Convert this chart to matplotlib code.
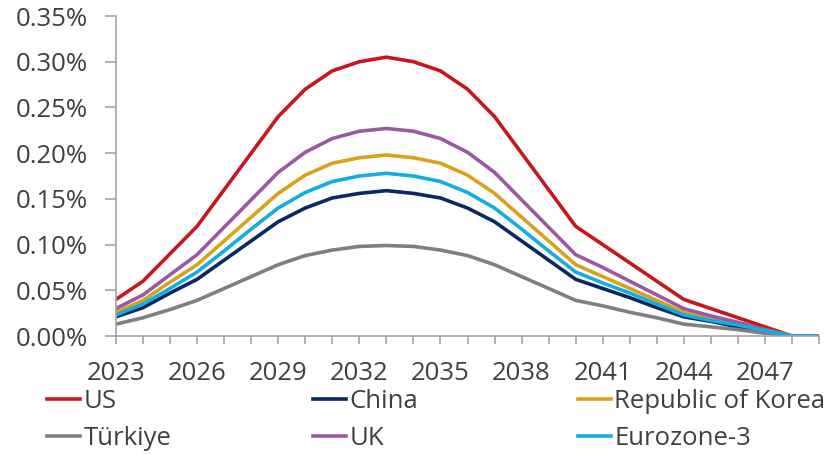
import matplotlib
matplotlib.use("Agg")
import matplotlib.pyplot as plt
from matplotlib.ticker import FuncFormatter, MultipleLocator

years = list(range(2023, 2050))

us = [0.040, 0.060, 0.090, 0.120, 0.160, 0.200, 0.240, 0.270, 0.290, 0.300, 0.305, 0.300, 0.290, 0.270,
      0.240, 0.200, 0.160, 0.120, 0.100, 0.080, 0.060, 0.040, 0.030, 0.020, 0.010, 0.000, 0.000]
china = [0.021, 0.031, 0.047, 0.062, 0.083, 0.104, 0.125, 0.140, 0.151, 0.156, 0.159, 0.156, 0.151, 0.140,
         0.125, 0.104, 0.083, 0.062, 0.052, 0.042, 0.031, 0.021, 0.016, 0.010, 0.005, 0.000, 0.000]
korea = [0.026, 0.039, 0.059, 0.078, 0.104, 0.130, 0.156, 0.176, 0.189, 0.195, 0.198, 0.195, 0.189, 0.176,
         0.156, 0.130, 0.104, 0.078, 0.065, 0.052, 0.039, 0.026, 0.020, 0.013, 0.007, 0.000, 0.000]
turkiye = [0.013, 0.020, 0.029, 0.039, 0.052, 0.065, 0.078, 0.088, 0.094, 0.098, 0.099, 0.098, 0.094, 0.088,
           0.078, 0.065, 0.052, 0.039, 0.033, 0.026, 0.020, 0.013, 0.010, 0.007, 0.003, 0.000, 0.000]
uk = [0.030, 0.045, 0.067, 0.089, 0.119, 0.149, 0.179, 0.201, 0.216, 0.224, 0.227, 0.224, 0.216, 0.201,
      0.179, 0.149, 0.119, 0.089, 0.075, 0.060, 0.045, 0.030, 0.022, 0.015, 0.007, 0.000, 0.000]
eurozone = [0.023, 0.035, 0.052, 0.070, 0.093, 0.117, 0.140, 0.157, 0.169, 0.175, 0.178, 0.175, 0.169, 0.157,
            0.140, 0.117, 0.093, 0.070, 0.058, 0.047, 0.035, 0.023, 0.017, 0.012, 0.006, 0.000, 0.000]

names = ["US", "China", "Republic of Korea", "Türkiye", "UK", "Eurozone-3"]
values = [us, china, korea, turkiye, uk, eurozone]
colors = ["#C8161D", "#0B2860", "#D9A21B", "#7F7F7F", "#9B59A3", "#12ADE3"]

plt.rcParams["font.family"] = ["Open Sans", "DejaVu Sans"]
text_color = "#404040"
axis_color = "#A6A6A6"
fs = 18.5

fig = plt.figure(figsize=(8.32, 4.55), dpi=100)
ax = fig.add_axes([0.1394, 0.2615, 0.8450, 0.7033])

lines = []
for name, vals, color in zip(names, values, colors):
    (ln,) = ax.plot(years, vals, color=color, lw=2.6, label=name)
    lines.append(ln)

ax.set_xlim(2023, 2049)
ax.set_ylim(0, 0.35)
ax.yaxis.set_major_locator(MultipleLocator(0.05))
ax.yaxis.set_major_formatter(FuncFormatter(lambda v, p: f"{v:.2f}%"))
ax.set_xticks(years, minor=True)
ax.set_xticks(list(range(2023, 2049, 3)))
ax.set_xticklabels([str(y) for y in range(2023, 2049, 3)])

for s in ["top", "right"]:
    ax.spines[s].set_visible(False)
for s in ["left", "bottom"]:
    ax.spines[s].set_color(axis_color)
    ax.spines[s].set_linewidth(1.2)
ax.tick_params(axis="y", which="major", length=8, width=1.2, color=axis_color,
               labelsize=fs, labelcolor=text_color, pad=12)
ax.tick_params(axis="x", which="both", length=6, width=1.2, color=axis_color,
               labelsize=fs, labelcolor=text_color, pad=12)

# legend: three equal-width columns like the original
col_x = [47, 313, 578]
for i, x in enumerate(col_x):
    idx = [i, i + 3]
    fig.legend([lines[j] for j in idx], [names[j] for j in idx],
               loc="center left", bbox_to_anchor=(x / 832, 1 - 420 / 455),
               frameon=False, fontsize=fs, labelcolor=text_color,
               handlelength=1.3, handletextpad=0.12, borderpad=0.0,
               borderaxespad=0.0, labelspacing=0.47)

plt.savefig("out.png", dpi=100)
plt.close()
